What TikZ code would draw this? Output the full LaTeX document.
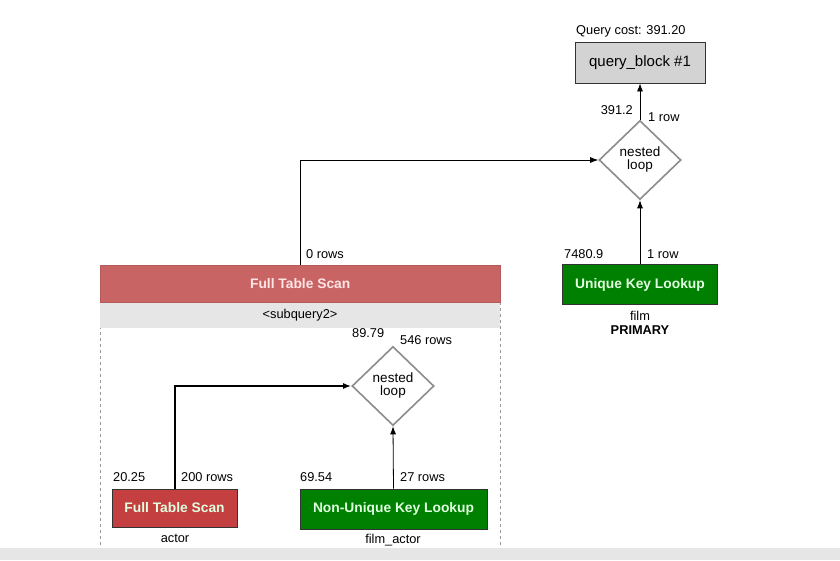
\documentclass[tikz,border=0pt]{standalone}
\usepackage{fontspec}
\setmainfont{Liberation Sans}
\usetikzlibrary{shapes.geometric,arrows.meta}

\definecolor{scanred}{RGB}{201,100,100}
\definecolor{actorred}{RGB}{196,64,64}
\definecolor{lookgreen}{RGB}{0,128,0}
\definecolor{bandgray}{RGB}{230,230,230}
\definecolor{blockgray}{RGB}{211,211,211}

\tikzset{
    opbox/.style={draw=black!80, thick, minimum height=40pt, text=white!88!green,
        font=\fontsize{13.8}{15}\selectfont\bfseries, inner sep=0pt},
    joinnode/.style={diamond, draw=black!45, line width=1.6pt, inner sep=0pt,
        minimum width=82pt, minimum height=79pt, align=center,
        font=\fontsize{13.5}{13}\selectfont},
    lbl/.style={font=\fontsize{12.8}{14}\selectfont, inner sep=0pt},
    flow/.style={-{Latex[length=8pt,width=6pt]}, thick}
}

\begin{document}
\begin{tikzpicture}[x=1pt, y=-1pt]
        \useasboundingbox[fill=white] (0, 0) rectangle (840, 560);

        % Bottom band
        \fill[bandgray] (0, 548) rectangle (840, 560);

        % Subquery frame
        \draw[black!40, dashed] (100, 302) -- (100, 548);
        \draw[black!40, dashed] (500, 302) -- (500, 548);
        \fill[bandgray] (100, 302) rectangle (500, 328);
        \node[lbl] (subname) at (300, 315) {<subquery2>};
        \node[fill=scanred, draw=scanred!90!black, minimum width=400pt, minimum height=37pt,
            inner sep=0pt, anchor=north west, text=white!90!red,
            font=\fontsize{13.8}{15}\selectfont\bfseries] (subscan) at (100, 265) {Full Table Scan};

        % Query block
        \node[draw=black!80, thick, fill=blockgray, minimum width=130pt, minimum height=41pt,
            font=\fontsize{15}{17}\selectfont] (qblock) at (640, 62.5) {query\_block \#1};
        \node[lbl, anchor=south west] (qcost) at (576, 37) {Query cost: 391.20};

        % Top nested loop
        \node[joinnode] (loopA) at (640, 160) {nested\\loop};
        \draw[flow] (loopA.north) -- (qblock.south);
        \node[lbl, anchor=east] (costA) at (633, 110) {391.2};
        \node[lbl, anchor=west] (rowsA) at (648, 117) {1 row};

        % Unique key lookup on film
        \node[opbox, fill=lookgreen, minimum width=155pt] (ukl) at (640, 284.5) {Unique Key Lookup};
        \draw[flow] (ukl.north) -- (loopA.south);
        \node[lbl, anchor=west] (costF) at (564, 254) {7480.9};
        \node[lbl, anchor=west] (rowsF) at (647, 254) {1 row};
        \node[lbl] (tabF) at (640, 316) {film};
        \node[lbl, font=\fontsize{12.8}{14}\selectfont\bfseries] (keyF) at (640, 330) {PRIMARY};

        % Subquery result into top loop
        \draw[flow] (subscan.north) |- (loopA.west);
        \node[lbl, anchor=west] (rowsS) at (306, 254) {0 rows};

        % Inner nested loop
        \node[joinnode] (loopB) at (393, 386) {nested\\loop};
        \node[lbl, anchor=west] (costB) at (352, 333) {89.79};
        \node[lbl, anchor=west] (rowsB) at (400, 340) {546 rows};

        % Full table scan on actor
        \node[opbox, fill=actorred, minimum width=125pt, minimum height=38pt] (actscan) at (174.5, 508) {Full Table Scan};
        \draw[flow, line width=2pt] (actscan.north) |- (loopB.west);
        \node[lbl, anchor=west] (costC) at (113, 477) {20.25};
        \node[lbl, anchor=west] (rowsC) at (181, 477) {200 rows};
        \node[lbl] (tabC) at (175, 538) {actor};

        % Non-unique key lookup on film_actor
        \node[opbox, fill=lookgreen, minimum width=187pt] (nukl) at (393.5, 509) {Non-Unique Key Lookup};
        \draw[flow] (nukl.north) -- (loopB.south);
        \node[lbl, anchor=west] (costD) at (300, 477) {69.54};
        \node[lbl, anchor=west] (rowsD) at (400, 477) {27 rows};
        \node[lbl] (tabD) at (393, 540) {film\_actor};

    \end{tikzpicture}
\end{document}
